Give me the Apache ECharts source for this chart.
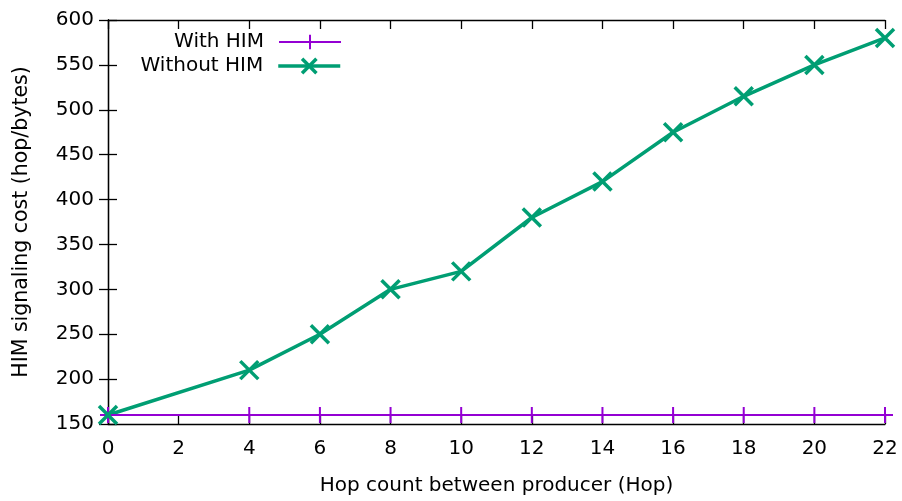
<!DOCTYPE html>
<html><head><meta charset="utf-8">
<script src="https://cdn.jsdelivr.net/npm/echarts@6/dist/echarts.min.js"></script>
<style>html,body{margin:0;padding:0;background:#fff}#c{width:902px;height:501px}</style>
</head><body><div id="c"></div>
<script>
const hops = [0, 4, 6, 8, 10, 12, 14, 16, 18, 20, 22];
const withHIM = [160, 160, 160, 160, 160, 160, 160, 160, 160, 160, 160];
const withoutHIM = [160, 210, 250, 300, 320, 380, 420, 475, 515, 550, 580];
const xTitle = 'Hop count between producer (Hop)';
const yTitle = 'HIM signaling cost (hop/bytes)';

const FONT = 'DejaVu Sans';
const FS = 20;
const plus = 'path://M0,-10L0,10M-10,0L10,0';
const cross = 'path://M-10,-10L10,10M-10,10L10,-10';
const PURPLE = '#9400d3', GREEN = '#009e73';
const axisLine = {show: true, lineStyle: {color: '#000', width: 1.3}};
const tick = {show: true, inside: true, length: 9, lineStyle: {color: '#000', width: 1.3}};

const chart = echarts.init(document.getElementById('c'), null, {renderer: 'canvas'});
chart.setOption({
  animation: false,
  backgroundColor: '#fff',
  textStyle: {fontFamily: FONT},
  grid: {left: 108, right: 17, top: 20, bottom: 76, containLabel: false},
  legend: [
    {data: [{name: 'With HIM', lineStyle: {width: 2, color: PURPLE}, itemStyle: {borderWidth: 2, borderColor: PURPLE, color: 'transparent'}}],
     right: 555, top: 27, itemWidth: 62, itemHeight: 18, itemGap: 0,
     textStyle: {fontFamily: FONT, fontSize: FS, color: '#000', padding: [0, 10, 0, 0]}, align: 'right'},
    {data: [{name: 'Without HIM', lineStyle: {width: 3.5, color: GREEN}, itemStyle: {borderWidth: 3.5, borderColor: GREEN, color: 'transparent'}}],
     right: 555, top: 51, itemWidth: 62, itemHeight: 18, itemGap: 0,
     textStyle: {fontFamily: FONT, fontSize: FS, color: '#000', padding: [0, 10, 0, 0]}, align: 'right'}
  ],
  xAxis: [
    {type: 'value', min: 0, max: 22, interval: 2, position: 'bottom',
     name: xTitle, nameLocation: 'middle', nameGap: 52,
     nameTextStyle: {fontFamily: FONT, fontSize: FS, color: '#000'},
     axisLine: axisLine, axisTick: tick, splitLine: {show: false},
     axisLabel: {fontFamily: FONT, fontSize: FS, color: '#000', margin: 15}},
    {type: 'value', min: 0, max: 22, interval: 2, position: 'top',
     axisLine: axisLine, axisTick: tick, splitLine: {show: false}, axisLabel: {show: false}}
  ],
  yAxis: [
    {type: 'value', min: 150, max: 600, interval: 50, position: 'left',
     name: yTitle, nameLocation: 'middle', nameGap: 76,
     nameTextStyle: {fontFamily: FONT, fontSize: 20.5, color: '#000'},
     axisLine: axisLine, axisTick: tick, splitLine: {show: false},
     axisLabel: {fontFamily: FONT, fontSize: FS, color: '#000', margin: 14}},
    {type: 'value', min: 150, max: 600, interval: 50, position: 'right',
     axisLine: axisLine, axisTick: tick, splitLine: {show: false}, axisLabel: {show: false}}
  ],
  series: [
    {name: 'With HIM', type: 'line', data: hops.map((h, i) => [h, withHIM[i]]),
     symbol: plus, symbolSize: 16, showAllSymbol: true,
     lineStyle: {color: PURPLE, width: 2},
     itemStyle: {color: 'transparent', borderColor: PURPLE, borderWidth: 2}},
    {name: 'Without HIM', type: 'line', data: hops.map((h, i) => [h, withoutHIM[i]]),
     symbol: cross, symbolSize: 18, showAllSymbol: true,
     lineStyle: {color: GREEN, width: 3.5},
     itemStyle: {color: 'transparent', borderColor: GREEN, borderWidth: 3.5}}
  ]
});
</script></body></html>
